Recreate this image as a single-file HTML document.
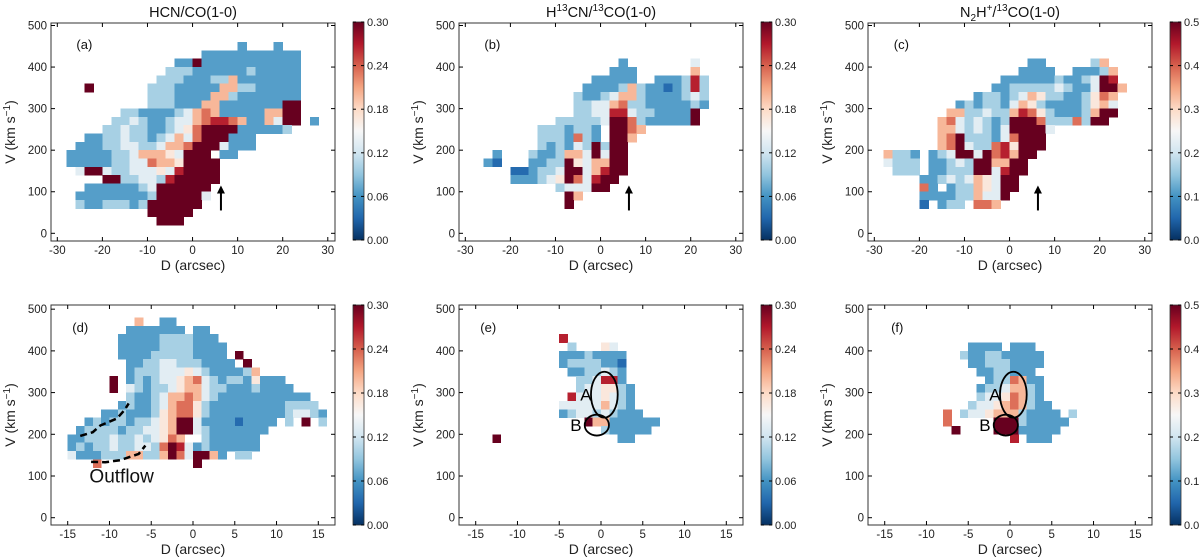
<!DOCTYPE html>
<html><head><meta charset="utf-8">
<style>
html,body{margin:0;padding:0;background:#fff;}
svg{display:block;font-family:"Liberation Sans",sans-serif;}
</style></head>
<body>
<svg id="fig" width="1200" height="559" viewBox="0 0 1200 559" xmlns="http://www.w3.org/2000/svg"></svg>
<script>
// ---------- data: heat rows (top row first), digit = colour level 0..9, '.' = no data ----------
const panelARows = [
"....................2...2",
"................22222222222",
".............22922222222222",
"............333222222322222",
"...........3332223362222222",
"...9......33322222663322222",
"..........33322226632222222",
"..........33322266222222299",
".......33222234676222226699",
"......334322344678876226499.2",
".....334332234579999222223",
"...2233433234647999222",
"..22233443346679994222",
".2222233466654999.22",
".22222334476659999",
"..4994334445489999",
".....9933443899999",
"...22222234999999",
"..222222223999994",
"..32233323999999",
"..........99999",
"...........999",
""];
const panelBRows = [
"",
"",
".................2.......4",
"................222......6",
"..............22222..222383",
".............22223632212383",
"............322346632222343",
"............334467332222232",
"............33448843322229.",
"..........3333349973222229",
"........3332332.9976",
"........3332732.996",
"........3232439399",
"...2...32236649499",
"..21...22339546699",
".....1123349946899",
".....222345974899",
"..........344499",
"...........96",
"...........9",
"","",""];
const panelCRows = [
"",
"",
".................22.....36",
"................2222..22236",
"..............2222223223498",
".............223333343224996",
"...........2332346533223576.",
".........232332465322223564",
"........6633433687532223699",
".......6743432399973337399.",
".......6643432499994",
".......679333247999",
".......679433785999",
".6332.234994978699",
".4333.22343996699",
"..333.22333994899",
".....22343465499",
".....72.23365499",
".....2222336449",
".....1.233.776",
"","",""];
const panelDRows = [
".........6..22",
"........2222222.22",
".......222223333222",
".......2222233332222",
".......2222333332222.9",
"........2233443332222.9",
"........2333444543222236",
"......9.2323445674323325222",
"......9.43233456643322232222",
"........3223466764322222222222",
".......232234677532222222223333",
".....223222356775322222222234432",
"...23233233456994222212222.3.9.3",
"..23333233445699432222222",
".22333433434576..3222222",
".23233433443798423222222",
".4222333663369749962.33",
"....7...........9",
"","","","","",""];
const panelERows = [
"",
"",
"...........8",
"............3...54",
"...........22232222",
"...........23333221",
"............2233432",
".............334882",
".............3445532",
"............84445432",
"...........444446432",
"...........2344343222",
"..............966222222",
"................322222",
"...9..............22",
"","","","","","","","",""];
const panelFRows = [
"",
"",
"",
"...........2222.222",
"..........3223322222",
"...........223332222",
"............2233222",
".............2337622",
"............23346632",
"............34457632",
"...........3445676322",
"........7.344566632222.3",
"........7.....999322222",
".........9....99922222",
"................8.222",
"","","","","","","","",""];
// axis ticks and colourbar tick labels
const topXTicks = [-30,-20,-10,0,10,20,30];
const botXTicks = [-15,-10,-5,0,5,10,15];
const yTicks = [0,100,200,300,400,500];
const cbTicksA = ["0.00","0.06","0.12","0.18","0.24","0.30"];
const cbTicksC = ["0.0","0.1","0.2","0.3","0.4","0.5"];
const outflowUpper = [[-13.5,196],[-12,205],[-11.1,221],[-9.1,238],[-8.2,258],[-7.7,274]];
const outflowLower = [[-12.2,134],[-10.5,133],[-8.7,138],[-6.5,153],[-5.7,173]];

// ---------- helpers ----------
const NS = "http://www.w3.org/2000/svg";
const svg = document.getElementById('fig');
function mk(tag, attrs, parent){
  const e = document.createElementNS(NS, tag);
  for (const k in attrs) e.setAttribute(k, attrs[k]);
  (parent||svg).appendChild(e);
  return e;
}
const stops = [[0,'#053061'],[0.1,'#2166ac'],[0.2,'#4393c3'],[0.3,'#92c5de'],[0.4,'#d1e5f0'],[0.5,'#f7f7f7'],[0.6,'#fddbc7'],[0.7,'#f4a582'],[0.8,'#d6604d'],[0.9,'#b2182b'],[1,'#67001f']];
function hex(h){return [parseInt(h.slice(1,3),16),parseInt(h.slice(3,5),16),parseInt(h.slice(5,7),16)];}
function cmap(t){
  t=Math.max(0,Math.min(1,t));
  for(let i=1;i<stops.length;i++){
    if(t<=stops[i][0]){
      const a=hex(stops[i-1][1]),b=hex(stops[i][1]);
      const f=(t-stops[i-1][0])/(stops[i][0]-stops[i-1][0]);
      return 'rgb('+a.map((v,j)=>Math.round(v+(b[j]-v)*f)).join(',')+')';
    }
  }
  return stops[stops.length-1][1];
}
// gradient for colourbar
const defs = mk('defs',{});
const grad = mk('linearGradient',{id:'cbg',x1:0,y1:1,x2:0,y2:0},defs);
stops.forEach(s=>mk('stop',{offset:s[0],'stop-color':s[1]},grad));

function drawPanel(p){
  const g = mk('g',{});
  
  
  const x = d => p.left + (d - p.xmin)/(p.xmax - p.xmin)*p.w;
  const y = v => p.top + (p.ymax - v)/(p.ymax - p.ymin)*p.h;
  // heat cells
  const cells = mk('g',{'shape-rendering':'crispEdges'},g);
  
  
  p.rows.forEach((row,k)=>{
    const v1 = p.vTop - 20*k, v0 = v1 - 20;
    for(let i=0;i<row.length;i++){
      const c=row[i]; if(c==='.') continue;
      const d0 = p.gx0 + i*p.cw, d1 = d0 + p.cw;
      const r = mk('rect',{x:x(d0),y:y(v1),width:x(d1)-x(d0)+0.4,height:y(v0)-y(v1)+0.4,fill:cmap(parseInt(c)/9)},cells);
      
      
    }
  });
  // frame
  const fr = mk('rect',{x:p.left,y:p.top,width:p.w,height:p.h,fill:'none',stroke:'#333','stroke-width':1},g);
  
  
  // ticks
  p.xt.forEach(t=>{
    const X=x(t);
    mk('line',{x1:X,x2:X,y1:p.top+p.h,y2:p.top+p.h-4,stroke:'#000'},g);
    mk('line',{x1:X,x2:X,y1:p.top,y2:p.top+4,stroke:'#000'},g);
    const tl = mk('text',{x:X,y:p.top+p.h+13,'font-size':11.5,'text-anchor':'middle',fill:'#222'},g);
    tl.textContent = t;
    
    
  });
  yTicks.forEach(t=>{
    const Y=y(t);
    mk('line',{x1:p.left,x2:p.left+4,y1:Y,y2:Y,stroke:'#000'},g);
    mk('line',{x1:p.left+p.w,x2:p.left+p.w-4,y1:Y,y2:Y,stroke:'#000'},g);
    const tl = mk('text',{x:p.left-4,y:Y+4,'font-size':11.5,'text-anchor':'end',fill:'#222'},g);
    tl.textContent = t;
    
    
  });
  // axis titles
  const xl = mk('text',{x:p.left+p.w/2,y:p.top+p.h+29,'font-size':14,'text-anchor':'middle',fill:'#222'},g);
  xl.textContent='D (arcsec)';
  
  
  const yc = p.top+p.h/2, yx = p.left-36;
  const yl = mk('text',{x:yx,y:yc,'font-size':14,'text-anchor':'middle',fill:'#222',transform:'rotate(-90 '+yx+' '+yc+')'},g);
  yl.innerHTML='V (km s<tspan dy="-5" font-size="10">−1</tspan><tspan dy="5">)</tspan>';
  
  
  // panel letter
  const pl = mk('text',{x:x(p.lab[0]),y:y(p.lab[1])+5,'font-size':13,'text-anchor':'middle',fill:'#111'},g);
  pl.textContent=p.letter;
  
  
  // colourbar
  const cbx = p.left+p.w+18;
  const cb = mk('rect',{x:cbx,y:p.cbTop,width:11,height:p.cbH,fill:'url(#cbg)',stroke:'#333','stroke-width':0.8},g);
  
  
  p.cbt.forEach((t,i)=>{
    const Y = p.cbTop + p.cbH - i/(p.cbt.length-1)*p.cbH;
    mk('line',{x1:cbx,x2:cbx+3,y1:Y,y2:Y,stroke:'#000'},g);
    mk('line',{x1:cbx+11,x2:cbx+8,y1:Y,y2:Y,stroke:'#000'},g);
    const tl = mk('text',{x:cbx+14,y:Y+4,'font-size':11,fill:'#222'},g);
    tl.textContent=t;
    
    
  });
  // title
  if(p.title){
    const tt = mk('text',{x:p.left+p.w/2,y:17,'font-size':14.5,'text-anchor':'middle',fill:'#111'},g);
    tt.innerHTML=p.title;
    
    
  }
  p.x=x; p.y=y; p.g=g;
  return p;
}
function arrow(p){
  const X=p.x(6.3), y0=p.y(55), y1=p.y(115);
  const a = mk('g',{},p.g);
  
  
  mk('line',{x1:X,x2:X,y1:y0,y2:y1+6,stroke:'#000','stroke-width':2},a);
  mk('polygon',{points:(X-4)+','+(y1+8)+' '+(X+4)+','+(y1+8)+' '+X+','+y1,fill:'#000'},a);
}
function ellipse(p,cx,cy,rx,ry,label,lx,ly,name){
  const e = mk('ellipse',{cx:p.x(cx),cy:p.y(cy),rx:Math.abs(p.x(cx+rx)-p.x(cx)),ry:Math.abs(p.y(cy+ry)-p.y(cy)),fill:'none',stroke:'#000','stroke-width':1.8},p.g);
  
  
  const t = mk('text',{x:p.x(lx),y:p.y(ly)+6,'font-size':17,'text-anchor':'middle',fill:'#000'},p.g);
  t.textContent=label;
  
  
}
const lefts=[51,459,868];
const topCfg = (i,rows,letter,title,cbt,name)=>({name,left:lefts[i],top:23,w:284,h:218,xmin:-31.4,xmax:31.6,ymin:-18.5,ymax:506,gx0:-30,cw:2,vTop:460,rows,xt:topXTicks,letter,lab:[-24,455],cbTop:22,cbH:218,cbt,title});
const botCfg = (i,rows,letter,cbt,name)=>({name,left:lefts[i],top:305,w:284,h:220,xmin:-17,xmax:17,ymin:-17.5,ymax:510,gx0:-16,cw:1,vTop:480,rows,xt:botXTicks,letter,lab:[-13.5,457],cbTop:305,cbH:220,cbt,title:null});

const pa = drawPanel(topCfg(0,panelARows,'(a)','HCN/CO(1-0)',cbTicksA,'panel-a'));
const pb = drawPanel(topCfg(1,panelBRows,'(b)','H<tspan dy="-6" font-size="10">13</tspan><tspan dy="6">CN/</tspan><tspan dy="-6" font-size="10">13</tspan><tspan dy="6">CO(1-0)</tspan>',cbTicksA,'panel-b'));
const pc = drawPanel(topCfg(2,panelCRows,'(c)','N<tspan dy="4" font-size="10">2</tspan><tspan dy="-4">H</tspan><tspan dy="-6" font-size="10">+</tspan><tspan dy="6">/</tspan><tspan dy="-6" font-size="10">13</tspan><tspan dy="6">CO(1-0)</tspan>',cbTicksC,'panel-c'));
const pd = drawPanel(botCfg(0,panelDRows,'(d)',cbTicksA,'panel-d'));
const pe = drawPanel(botCfg(1,panelERows,'(e)',cbTicksA,'panel-e'));
const pf = drawPanel(botCfg(2,panelFRows,'(f)',cbTicksC,'panel-f'));
arrow(pa); arrow(pb); arrow(pc);

// outflow dashed lines
[outflowUpper,outflowLower].forEach(pts=>{
  const l = mk('polyline',{points:pts.map(q=>pd.x(q[0])+','+pd.y(q[1])).join(' '),fill:'none',stroke:'#000','stroke-width':2.5,'stroke-dasharray':'7,4'},pd.g);
  
  
});
const ot = mk('text',{x:pd.x(-12.4),y:pd.y(85),'font-size':19,fill:'#111'},pd.g);
ot.textContent='Outflow';



ellipse(pe,0.4,295,1.6,55,'A',-1.8,295,'ellipse-a');
ellipse(pe,-0.5,222,1.45,25,'B',-3,222,'ellipse-b');
ellipse(pf,0.4,295,1.6,55,'A',-1.8,295,'ellipse-a');
ellipse(pf,-0.5,222,1.45,25,'B',-3,222,'ellipse-b');
</script>
</body></html>
